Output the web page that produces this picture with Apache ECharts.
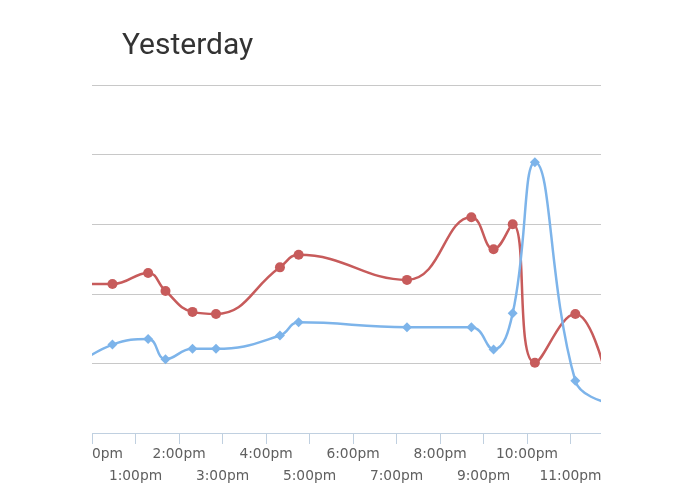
<!DOCTYPE html>
<html>
<head>
<meta charset="utf-8">
<script src="https://cdn.jsdelivr.net/npm/echarts@6/dist/echarts.min.js"></script>
<style>
html,body{margin:0;padding:0;background:#fff;width:695px;height:494px;overflow:hidden;}
#c{position:absolute;left:92px;top:0;width:509px;height:494px;}
</style>
</head>
<body>
<div id="c"></div>
<script>
// hours after 12:00pm
var hours = [-0.45, 0.47, 1.29, 1.69, 2.31, 2.85, 4.32, 4.75, 7.24, 8.72, 9.23, 9.67, 10.18, 11.11, 11.76];
var redSeries = [2.14, 2.14, 2.30, 2.04, 1.74, 1.71, 2.38, 2.56, 2.20, 3.10, 2.64, 3.00, 1.01, 1.71, 0.95];
var blueSeries = [0.94, 1.27, 1.35, 1.06, 1.21, 1.21, 1.40, 1.59, 1.52, 1.52, 1.20, 1.72, 3.89, 0.75, 0.45];
var tickLabels = ['12:00pm','1:00pm','2:00pm','3:00pm','4:00pm','5:00pm','6:00pm','7:00pm','8:00pm','9:00pm','10:00pm','11:00pm'];
var titleText = 'Yesterday';

function pairs(vals){ return hours.map(function(h,i){ return [h, vals[i]]; }); }

function labelFmt(parity){
  return function(v){
    var i = Math.round(v);
    return (i % 2 === parity) ? (tickLabels[i] || '') : '';
  };
}
var labelFont = {fontFamily: 'DejaVu Sans', fontSize: 13.8, color: '#606060', hideOverlap: false};

var chart = echarts.init(document.getElementById('c'));
chart.setOption({
  animation: false,
  title: {
    text: titleText, left: 25, top: 26,
    textStyle: {fontFamily: "Roboto, sans-serif", fontSize: 30, fontWeight: 'normal', color: '#333'}
  },
  grid: {left: 0, right: 0, top: 85, bottom: 61, containLabel: false, outerBoundsMode: 'none'},
  xAxis: [
    {
      type: 'value', min: 0, max: 11.7, interval: 1, position: 'bottom',
      axisLine: {show: true, lineStyle: {color: '#c0d0e0', width: 1}},
      axisTick: {show: true, length: 11, lineStyle: {color: '#c0d0e0'}},
      splitLine: {show: false},
      axisLabel: Object.assign({showMinLabel: true, showMaxLabel: false, margin: 14, formatter: labelFmt(0)}, labelFont)
    },
    {
      type: 'value', min: 0, max: 11.7, interval: 1, position: 'bottom', offset: 0,
      axisLine: {show: false}, axisTick: {show: false}, splitLine: {show: false},
      axisLabel: Object.assign({showMinLabel: false, showMaxLabel: false, margin: 36, formatter: labelFmt(1)}, labelFont)
    }
  ],
  yAxis: {
    type: 'value', min: 0, max: 5, interval: 1,
    axisLine: {show: false}, axisTick: {show: false}, axisLabel: {show: false},
    splitLine: {show: true, lineStyle: {color: '#c8c8c8', width: 1}}
  },
  series: [
    {
      type: 'line', data: pairs(redSeries), smooth: 0.45, clip: true,
      symbol: 'circle', symbolSize: 10,
      lineStyle: {color: '#c75b5b', width: 2.5},
      itemStyle: {color: '#c75b5b'}
    },
    {
      type: 'line', data: pairs(blueSeries), smooth: 0.45, clip: true,
      symbol: 'diamond', symbolSize: 10,
      lineStyle: {color: '#7db4ea', width: 2.5},
      itemStyle: {color: '#7db4ea'}
    }
  ]
});
</script>
</body>
</html>
